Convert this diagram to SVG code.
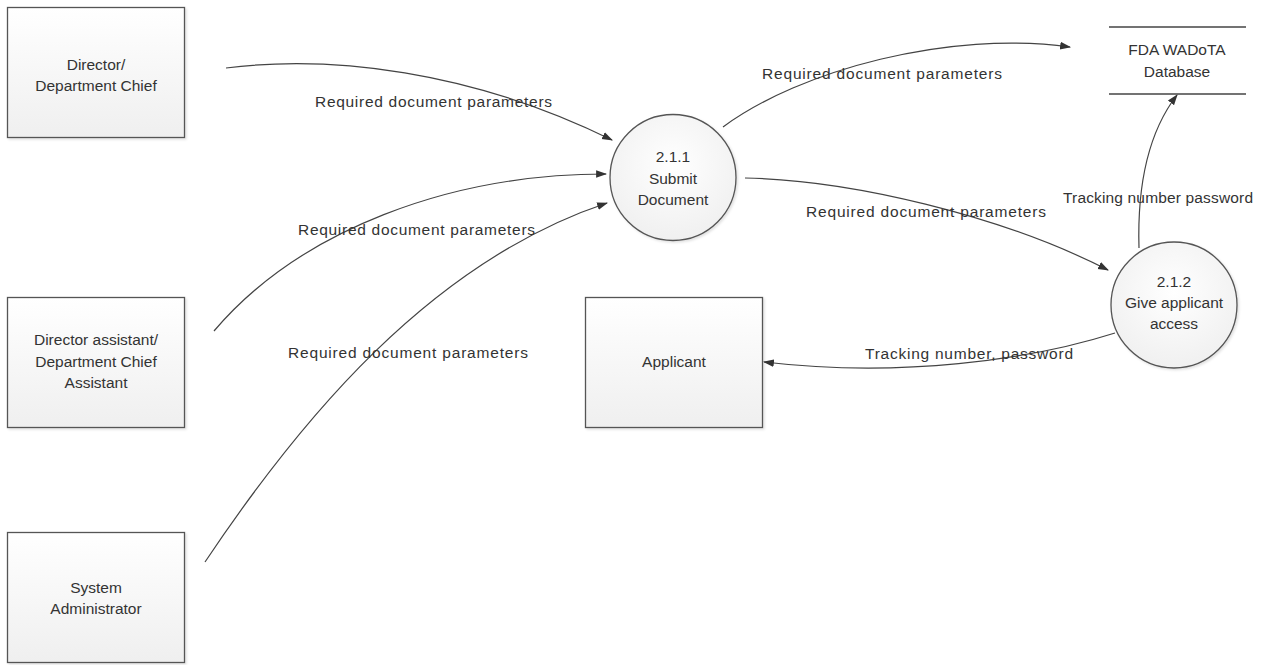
<svg xmlns="http://www.w3.org/2000/svg" width="1263" height="665" viewBox="0 0 1263 665">
<defs>
<linearGradient id="boxfill" x1="0" y1="0" x2="0" y2="1">
<stop offset="0" stop-color="#ffffff"/>
<stop offset="1" stop-color="#efefef"/>
</linearGradient>
<radialGradient id="circfill" cx="0.5" cy="0.4" r="0.6">
<stop offset="0" stop-color="#ffffff"/>
<stop offset="1" stop-color="#f0f0f0"/>
</radialGradient>
<marker id="arrow" viewBox="0 0 10 10" refX="9" refY="5" markerWidth="11" markerHeight="11" markerUnits="userSpaceOnUse" orient="auto">
<path d="M0,1.5 L10,5 L0,8.5 Z" fill="#333"/>
</marker>
<filter id="shadow" x="-10%" y="-10%" width="120%" height="120%">
<feDropShadow dx="1.5" dy="1.5" stdDeviation="1.2" flood-color="#000" flood-opacity="0.12"/>
</filter>
</defs>
<style>
.box{fill:url(#boxfill);stroke:#555;stroke-width:1.3;filter:url(#shadow)}
.proc{fill:url(#circfill);stroke:#555;stroke-width:1.3;filter:url(#shadow)}
.store{stroke:#444;stroke-width:1.5}
.t{font-family:"Liberation Sans",Arial,sans-serif;font-size:15.5px;fill:#333;text-anchor:middle}
.lbl{font-family:"Liberation Sans",Arial,sans-serif;font-size:15.5px;fill:#333}
.flow{fill:none;stroke:#444;stroke-width:1.2;marker-end:url(#arrow)}
</style>
<rect width="1263" height="665" fill="#fff"/>

<g id="connectors">
<path class="flow" d="M226,68 C330,55 470,70 612,140"/>
<path class="flow" d="M214,331 C300,230 450,174 606,174"/>
<path class="flow" d="M205,562 C300,420 430,262 607,203"/>
<path class="flow" d="M723,127 C800,70 950,30 1070,47"/>
<path class="flow" d="M745,178 C850,180 1000,215 1108,270"/>
<path class="flow" d="M1139,248 C1137,180 1150,130 1177,95"/>
<path class="flow" d="M1115,333 C1030,360 900,378 764,362"/>
<text class="lbl" x="315" y="107" textLength="237">Required document parameters</text>
<text class="lbl" x="298" y="235" textLength="237">Required document parameters</text>
<text class="lbl" x="288" y="358" textLength="240">Required document parameters</text>
<text class="lbl" x="762" y="79" textLength="240">Required document parameters</text>
<text class="lbl" x="806" y="217" textLength="240">Required document parameters</text>
<text class="lbl" x="1063" y="203" textLength="190">Tracking number password</text>
<text class="lbl" x="865" y="359" textLength="208">Tracking number, password</text>
</g>

<g id="director">
<rect class="box" x="7.5" y="7.5" width="177" height="130"/>
<text class="t" x="96" y="70">Director/</text>
<text class="t" x="96" y="91">Department Chief</text>
</g>

<g id="director-assistant">
<rect class="box" x="7.5" y="297.5" width="177" height="130"/>
<text class="t" x="96" y="345">Director assistant/</text>
<text class="t" x="96" y="367">Department Chief</text>
<text class="t" x="96" y="388">Assistant</text>
</g>

<g id="sysadmin">
<rect class="box" x="7.5" y="532.5" width="177" height="130"/>
<text class="t" x="96" y="593">System</text>
<text class="t" x="96" y="614">Administrator</text>
</g>

<g id="submit-document">
<circle class="proc" cx="673" cy="177.5" r="63"/>
<text class="t" x="673" y="162">2.1.1</text>
<text class="t" x="673" y="184">Submit</text>
<text class="t" x="673" y="205">Document</text>
</g>

<g id="give-access">
<circle class="proc" cx="1174" cy="305" r="63"/>
<text class="t" x="1174" y="287">2.1.2</text>
<text class="t" x="1174" y="308">Give applicant</text>
<text class="t" x="1174" y="329">access</text>
</g>

<g id="applicant">
<rect class="box" x="585.5" y="297.5" width="177" height="130"/>
<text class="t" x="674" y="367">Applicant</text>
</g>

<g id="database">
<line class="store" x1="1109" y1="27" x2="1246" y2="27"/>
<line class="store" x1="1109" y1="94" x2="1246" y2="94"/>
<text class="t" x="1177" y="55">FDA WADoTA</text>
<text class="t" x="1177" y="77">Database</text>
</g>
</svg>
